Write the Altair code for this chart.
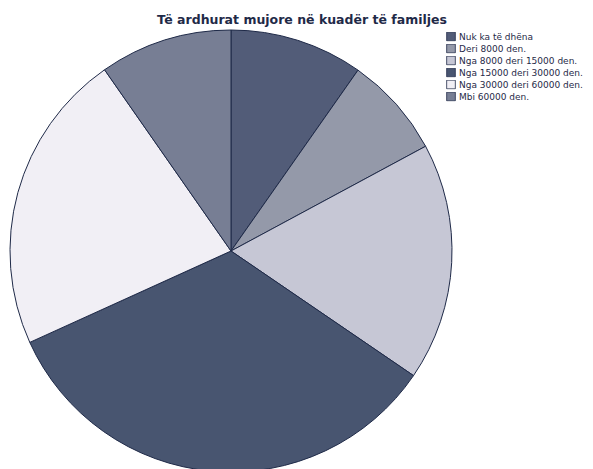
import altair as alt
import pandas as pd

categories = ["Nuk ka të dhëna", "Deri 8000 den.", "Nga 8000 deri 15000 den.",
              "Nga 15000 deri 30000 den.", "Nga 30000 deri 60000 den.", "Mbi 60000 den."]
values = [9.75, 7.4, 17.4, 33.7, 22.1, 9.7]
colors = ["#525c78", "#9499a9", "#c6c7d5", "#485570", "#f1eff5", "#777e94"]
title_text = "Të ardhurat mujore në kuadër të familjes"

df = pd.DataFrame({"cat": categories, "val": values, "idx": list(range(len(categories)))})

W, H = 577, 461
cx, cy, r = 223, 243, 221

pie = alt.Chart(df).mark_arc(stroke="#1f2a48", strokeWidth=1, outerRadius=r).encode(
    theta=alt.Theta("val:Q", stack=True),
    order=alt.Order("idx:Q"),
    color=alt.Color("cat:N", sort=categories,
                    scale=alt.Scale(domain=categories, range=colors),
                    legend=alt.Legend(title=None, orient="none", legendX=438, legendY=24,
                                      symbolType="square", symbolSize=75,
                                      symbolStrokeColor="#1f2a48", symbolStrokeWidth=0.8,
                                      labelFont="DejaVu Sans", labelFontSize=9,
                                      labelColor="#1f2a48", rowPadding=2, clipHeight=9,
                                      labelOffset=3, labelLimit=200, symbolOpacity=1)),
    x=alt.value(cx), y=alt.value(cy),
)

title = alt.Chart(pd.DataFrame({"t": [title_text]})).mark_text(
    font="DejaVu Sans", fontSize=12.5, fontWeight="bold", color="#1f2a48", align="center", baseline="middle"
).encode(text="t:N", x=alt.value(294), y=alt.value(11.5))

chart = alt.layer(pie, title).properties(
    width=W, height=H, autosize=alt.AutoSizeParams(type="none"), padding=0
).configure_view(stroke=None)

chart.save("out.html", embed_options={"renderer": "svg", "actions": False})
